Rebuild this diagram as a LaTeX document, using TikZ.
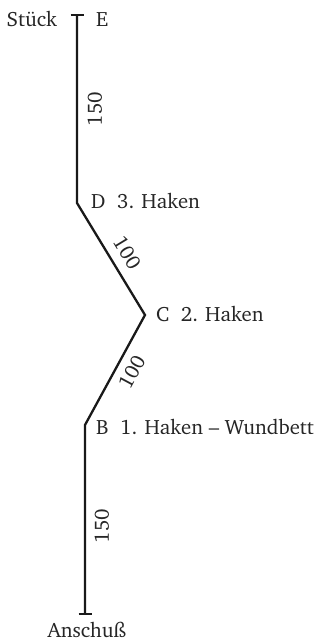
\documentclass[tikz,border=0pt]{standalone}
\usepackage[T1]{fontenc}
\usepackage{charter}
\begin{document}
\begin{tikzpicture}[x=1bp,y=-1bp,
  trail/.style={line width=2.3bp, line join=miter, color=black!90},
  lbl/.style={inner sep=0pt, font=\fontsize{20.8}{24}\selectfont, color=black!85}]
\useasboundingbox (0,0) rectangle (324,641);
\coordinate (E) at (77,15);
\coordinate (D) at (77,203);
\coordinate (C) at (145,315);
\coordinate (B) at (85,425);
\coordinate (A) at (85,614);
\coordinate (Etl) at (70.5,15);
\coordinate (Etr) at (83.5,15);
\coordinate (Al) at (78.5,614);
\coordinate (Ar) at (91.5,614);
\draw[trail] (E) -- (D) -- (C) -- (B) -- (A);
\draw[trail] (Etl) -- (Etr);
\draw[trail] (Al) -- (Ar);
\node[lbl, anchor=base east] (stueck) at (57,27) {St\"uck};
\node[lbl, anchor=base west] (labE) at (96,27) {E};
\node[lbl, anchor=base west] (labD) at (91,208) {D\ \ 3. Haken};
\node[lbl, anchor=base west] (labC) at (156,321) {C\ \ 2. Haken};
\node[lbl, anchor=base west] (labB) at (96,434) {B\ \ 1. Haken -- Wundbett};
\node[lbl, anchor=base] (anschuss) at (87,637) {Anschu\ss};
\node[lbl, rotate=90] (d1) at (95,109) {150};
\node[lbl, rotate=-58.7] (d2) at (127,253) {100};
\node[lbl, rotate=61.8] (d3) at (132,372) {100};
\node[lbl, rotate=90] (d4) at (102,526) {150};
\end{tikzpicture}
\end{document}
